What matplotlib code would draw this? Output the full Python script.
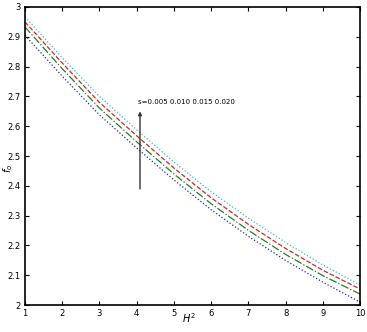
import numpy as np
import matplotlib
matplotlib.use("Agg")
import matplotlib.pyplot as plt

# ---------------------------------------------------------------------------
# DATA
# ---------------------------------------------------------------------------
h2 = [1, 2, 3, 4, 5, 6, 7, 8, 9, 10]

f_s1 = [2.905, 2.768, 2.638, 2.527, 2.420, 2.320, 2.231, 2.150, 2.077, 2.010]  # blue
f_s2 = [2.933, 2.793, 2.661, 2.548, 2.440, 2.340, 2.251, 2.170, 2.099, 2.037]  # green
f_s3 = [2.950, 2.812, 2.680, 2.568, 2.460, 2.360, 2.271, 2.190, 2.117, 2.054]  # red
f_s4 = [2.967, 2.830, 2.700, 2.588, 2.480, 2.380, 2.292, 2.210, 2.135, 2.067]  # cyan

y_ticks = [2.0, 2.1, 2.2, 2.3, 2.4, 2.5, 2.6, 2.7, 2.8, 2.9, 3.0]
y_ticklabels = ["2", "2.1", "2.2", "2.3", "2.4", "2.5", "2.6", "2.7", "2.8", "2.9", "3"]

note_text = "s=0.005 0.010 0.015 0.020"

# ---------------------------------------------------------------------------
# PLOT
# ---------------------------------------------------------------------------
fig = plt.figure(figsize=(3.67, 3.32), dpi=100)
ax = fig.add_axes([0.068, 0.081, 0.913, 0.898])

ax.plot(h2, f_s1, color="#2020c0", linestyle=":", linewidth=0.9)
ax.plot(h2, f_s2, color="#208020", linestyle="-.", linewidth=0.9)
ax.plot(h2, f_s3, color="#e02020", linestyle="--", linewidth=0.9)
ax.plot(h2, f_s4, color="#30c0c0", linestyle=":", linewidth=0.9)

ax.annotate("", xy=(4.09, 2.65), xytext=(4.09, 2.39),
            arrowprops=dict(arrowstyle="-|>", color="#333333", lw=1.0,
                            mutation_scale=5, shrinkA=0, shrinkB=0))
ax.text(4.04, 2.68, note_text, fontsize=5, ha="left", va="center")

ax.set_xlim(1, 10)
ax.set_ylim(2, 3)
ax.set_xticks(h2)
ax.set_yticks(y_ticks)
ax.set_yticklabels(y_ticklabels)
ax.tick_params(direction="in", top=True, right=True, labelsize=6,
               length=3, width=0.8, pad=3)
for sp in ax.spines.values():
    sp.set_linewidth(1.2)

ax.set_xlabel("$H^2$", fontsize=7)
ax.set_ylabel("$f_o$", fontsize=7)
ax.xaxis.set_label_coords(0.49, -0.045)
ax.yaxis.set_label_coords(-0.05, 0.46)
ax.xaxis.label.set_va("center")
ax.yaxis.label.set_va("center")

plt.savefig("out.png", dpi=100)
